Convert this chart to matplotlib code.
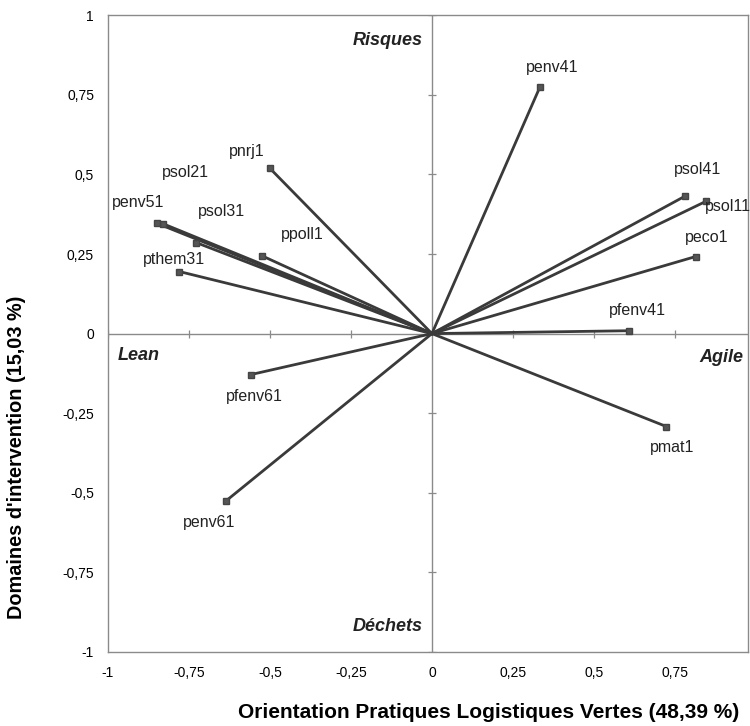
import numpy as np
import matplotlib.pyplot as plt

plt.rcParams['font.family'] = ['Liberation Sans', 'DejaVu Sans']

# variable coordinates on the two factorial axes
names = ['penv41', 'pnrj1', 'psol21', 'penv51', 'psol31', 'ppoll1', 'pthem31',
         'psol41', 'psol11', 'peco1', 'pfenv41', 'pmat1', 'pfenv61', 'penv61']
xs = [0.334, -0.50, -0.83, -0.848, -0.728, -0.526, -0.78,
      0.78, 0.845, 0.814, 0.607, 0.724, -0.56, -0.635]
ys = [0.776, 0.519, 0.345, 0.346, 0.286, 0.245, 0.195,
      0.431, 0.415, 0.242, 0.009, -0.292, -0.129, -0.525]
# label offsets (points)
offs = [(8.6, 13.7), (-17, 12), (16, 37), (-14, 15), (18, 22), (29, 15), (-4, 9),
        (9, 19), (16, -3.6), (8, 14), (6.5, 14.4), (4, -15), (3, -16), (-12, -16)]

xticks = [-1, -0.75, -0.5, -0.25, 0, 0.25, 0.5, 0.75]
yticks = [-1, -0.75, -0.5, -0.25, 0, 0.25, 0.5, 0.75, 1]

def fr(v):
    s = ('%g' % v).replace('.', ',')
    return s

fig = plt.figure(figsize=(7.5, 7.26), dpi=100)
ax = fig.add_axes([0.144, 0.102, 0.853, 0.877])
ax.set_xlim(-1, 0.975)
ax.set_ylim(-1, 1)

# central cross
ax.axhline(0, color='#8a8a8a', lw=1.0, zorder=1)
ax.axvline(0, color='#8a8a8a', lw=1.0, zorder=1)
ax.plot([t for t in xticks if t != 0], [0] * (len(xticks) - 1), ls='none', marker='|',
        ms=6, mew=0.9, color='#8a8a8a', zorder=1)
ax.plot([0] * (len(yticks) - 1), [t for t in yticks if t != 0], ls='none', marker='_',
        ms=6, mew=0.9, color='#8a8a8a', zorder=1)

for n, x, y, (dx, dy) in zip(names, xs, ys, offs):
    ax.plot([0, x], [0, y], color='#3a3a3a', lw=2.0, zorder=2)
    ax.plot(x, y, marker='s', ms=5, color='#555555', mec='#444444', zorder=3)
    ax.annotate(n, (x, y), xytext=(dx, dy), textcoords='offset points',
                ha='center', va='center', fontsize=11.5, color='#222222')

qk = dict(fontsize=13, fontweight='bold', style='italic', color='#222222')
ax.text(-0.03, 0.92, 'Risques', ha='right', va='center', **qk)
ax.text(-0.97, -0.07, 'Lean', ha='left', va='center', **qk)
ax.text(0.96, -0.075, 'Agile', ha='right', va='center', **qk)
ax.text(-0.03, -0.92, 'Déchets', ha='right', va='center', **qk)

ax.set_xticks(xticks)
ax.set_xticklabels([fr(t) for t in xticks], fontsize=10)
ax.set_yticks(yticks)
ax.set_yticklabels([fr(t) for t in yticks], fontsize=10)
ax.tick_params(length=0, pad=10)
for s in ax.spines.values():
    s.set_color('#8a8a8a')
    s.set_linewidth(1.0)

ax.set_xlabel('Orientation Pratiques Logistiques Vertes (48,39 %)', fontsize=15,
              fontweight='bold', labelpad=17, x=0.595)
ax.set_ylabel("Domaines d'intervention (15,03 %)", fontsize=14.3,
              fontweight='bold', labelpad=26, y=0.305)

fig.savefig('out.png', dpi=100)
